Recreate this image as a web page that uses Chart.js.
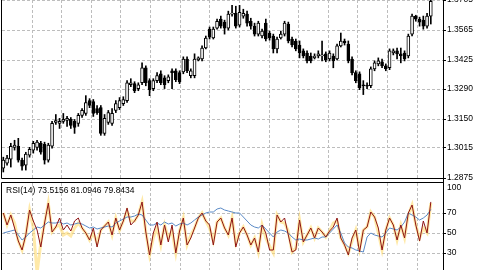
<!DOCTYPE html>
<html>
<head>
<meta charset="utf-8">
<script src="https://cdn.jsdelivr.net/npm/chart.js@4.4.1/dist/chart.umd.min.js"></script>
<style>
  html, body { margin: 0; padding: 0; background: #fff; }
  #wrap { position: relative; width: 480px; height: 270px; overflow: hidden; background: #fff; }
  #priceChart { position: absolute; left: 0; top: 0; }
  #rsiChart { position: absolute; left: 0; top: 180px; }
  #rsiLabel { position: absolute; left: 6px; top: 185px; font: 8.5px "Liberation Sans", Arial, sans-serif; color: #000; white-space: nowrap; }
</style>
</head>
<body>
<div id="wrap">
  <canvas id="priceChart" width="480" height="180"></canvas>
  <canvas id="rsiChart" width="480" height="90"></canvas>
  <div id="rsiLabel"></div>
</div>
<script>
// candles, left to right
const opens = [1.2921,1.2944,1.2963,1.3018,1.3023,1.2958,1.2935,1.2981,1.3005,1.3018,
  1.3037,1.3032,1.2958,1.3023,1.3134,1.3130,1.3139,1.3143,1.3148,1.3139,
  1.3130,1.3167,1.3176,1.3236,1.3231,1.3199,1.3203,1.3083,1.3134,1.3130,
  1.3190,1.3203,1.3222,1.3236,1.3310,1.3315,1.3292,1.3319,1.3389,1.3329,
  1.3292,1.3329,1.3361,1.3342,1.3329,1.3375,1.3375,1.3366,1.3370,1.3430,
  1.3352,1.3352,1.3426,1.3430,1.3481,1.3569,1.3528,1.3574,1.3616,1.3602,
  1.3574,1.3639,1.3643,1.3588,1.3630,1.3639,1.3606,1.3583,1.3546,1.3537,
  1.3597,1.3551,1.3537,1.3477,1.3528,1.3546,1.3593,1.3523,1.3514,1.3495,
  1.3468,1.3458,1.3444,1.3435,1.3444,1.3444,1.3454,1.3430,1.3444,1.3430,
  1.3491,1.3514,1.3500,1.3430,1.3366,1.3361,1.3310,1.3305,1.3305,1.3384,
  1.3407,1.3417,1.3398,1.3389,1.3458,1.3468,1.3454,1.3458,1.3444,1.3546,
  1.3630,1.3616,1.3611,1.3583,1.3630];
const highs = [1.2972,1.2981,1.3037,1.3051,1.3060,1.2968,1.2995,1.3018,1.3046,1.3051,
  1.3046,1.3042,1.3037,1.3139,1.3171,1.3153,1.3176,1.3162,1.3157,1.3148,
  1.3176,1.3199,1.3259,1.3245,1.3241,1.3213,1.3213,1.3171,1.3190,1.3199,
  1.3236,1.3250,1.3254,1.3329,1.3338,1.3324,1.3319,1.3412,1.3398,1.3338,
  1.3338,1.3366,1.3375,1.3352,1.3356,1.3384,1.3384,1.3375,1.3440,1.3440,
  1.3384,1.3454,1.3440,1.3491,1.3537,1.3579,1.3579,1.3616,1.3630,1.3611,
  1.3653,1.3680,1.3676,1.3680,1.3662,1.3653,1.3620,1.3597,1.3606,1.3569,
  1.3616,1.3560,1.3546,1.3532,1.3560,1.3606,1.3602,1.3532,1.3523,1.3514,
  1.3477,1.3468,1.3458,1.3454,1.3468,1.3514,1.3463,1.3468,1.3454,1.3500,
  1.3551,1.3523,1.3514,1.3440,1.3375,1.3370,1.3329,1.3319,1.3393,1.3421,
  1.3435,1.3430,1.3407,1.3477,1.3477,1.3481,1.3481,1.3468,1.3546,1.3639,
  1.3634,1.3625,1.3630,1.3643,1.3722];
const lows = [1.2903,1.2935,1.2926,1.3005,1.2949,1.2912,1.2912,1.2972,1.2991,1.3005,
  1.2986,1.2940,1.2949,1.3014,1.3125,1.3106,1.3130,1.3116,1.3106,1.3083,
  1.3116,1.3157,1.3167,1.3203,1.3162,1.3171,1.3074,1.3074,1.3125,1.3120,
  1.3180,1.3194,1.3213,1.3227,1.3301,1.3273,1.3282,1.3310,1.3305,1.3259,
  1.3282,1.3319,1.3310,1.3292,1.3319,1.3292,1.3324,1.3315,1.3361,1.3366,
  1.3342,1.3342,1.3421,1.3421,1.3477,1.3523,1.3523,1.3569,1.3574,1.3546,
  1.3565,1.3630,1.3574,1.3579,1.3620,1.3583,1.3569,1.3537,1.3537,1.3528,
  1.3514,1.3518,1.3458,1.3458,1.3523,1.3537,1.3505,1.3486,1.3468,1.3435,
  1.3435,1.3412,1.3412,1.3430,1.3435,1.3421,1.3417,1.3421,1.3389,1.3426,
  1.3486,1.3495,1.3412,1.3356,1.3319,1.3287,1.3264,1.3292,1.3296,1.3375,
  1.3398,1.3389,1.3375,1.3380,1.3449,1.3430,1.3412,1.3421,1.3435,1.3537,
  1.3606,1.3583,1.3569,1.3574,1.3593];
const closes = [1.2958,1.2968,1.3023,1.3028,1.2958,1.2930,1.2986,1.3009,1.3037,1.3042,
  1.2995,1.2958,1.3028,1.3130,1.3143,1.3139,1.3148,1.3153,1.3120,1.3111,
  1.3167,1.3190,1.3227,1.3213,1.3176,1.3180,1.3083,1.3153,1.3180,1.3176,
  1.3222,1.3236,1.3241,1.3319,1.3319,1.3282,1.3310,1.3389,1.3319,1.3287,
  1.3329,1.3352,1.3319,1.3310,1.3347,1.3366,1.3333,1.3324,1.3430,1.3375,
  1.3375,1.3430,1.3435,1.3481,1.3528,1.3532,1.3569,1.3606,1.3583,1.3574,
  1.3639,1.3643,1.3583,1.3648,1.3643,1.3597,1.3583,1.3546,1.3597,1.3560,
  1.3523,1.3528,1.3477,1.3523,1.3546,1.3597,1.3514,1.3495,1.3477,1.3458,
  1.3444,1.3421,1.3421,1.3444,1.3454,1.3449,1.3426,1.3458,1.3421,1.3491,
  1.3514,1.3505,1.3421,1.3366,1.3329,1.3296,1.3305,1.3303,1.3384,1.3412,
  1.3421,1.3398,1.3384,1.3468,1.3468,1.3454,1.3444,1.3430,1.3537,1.3630,
  1.3616,1.3602,1.3583,1.3630,1.3699];
const priceTicks = [1.2875, 1.3015, 1.3150, 1.3290, 1.3425, 1.3565, 1.3705];

// RSI lines
const rsiRed = [70,58,68,55,42,33,48,73,62,53, 36,60,80,51,56,65,53,58,52,62,
  65,55,50,43,55,36,53,57,61,48, 65,53,62,75,58,62,68,81,51,28,
  50,61,38,58,41,58,30,52,65,38, 45,55,65,70,62,58,38,61,65,55,
  48,65,36,50,56,48,38,45,31,58, 50,33,33,68,61,65,48,31,33,63,
  41,48,55,45,55,51,46,52,56,65, 45,38,28,45,53,31,53,56,71,66,
  55,33,53,65,58,43,58,45,70,78, 58,42,62,50,81.09];
const rsiYellow = [70,58,68,60,42,33,48,73,55,10, 40,60,80,51,56,58,48,50,47,55,
  60,55,50,43,50,40,53,57,61,48, 65,53,62,72,62,62,68,81,51,28,
  45,55,38,58,45,52,30,52,65,38, 48,55,65,70,62,55,42,61,65,55,
  48,65,40,50,56,48,38,45,31,58, 45,37,30,68,61,60,52,31,35,63,
  41,48,55,45,55,51,46,52,60,62, 45,38,30,42,53,34,53,56,71,66,
  50,33,53,65,58,43,58,45,68,78, 58,45,55,50,79.84];
const rsiBlue = [50,51,52,53,48,43,46,50,53,56, 55,58,61,60,60,61,59,60,58,59,
  60,59,57,55,56,54,55,56,57,56, 60,62,64,66,66,67,69,68,63,58,
  58,60,58,61,59,60,57,59,60,58, 60,63,66,68,70,71,71,74,75,73,
  72,71,70,70,66,62,58,56,55,58, 54,50,46,51,53,52,50,46,43,44,
  43,43,44,45,44,46,46,50,54,58, 50,40,36,35,33,32,31,46,50,48,
  47,46,50,55,54,53,56,61,70,68, 66,63,65,68,73.52];
const rsiTicks = [30, 50, 70, 100];
const rsiText = "RSI(14) 73.5156 81.0946 79.8434";

document.getElementById("rsiLabel").textContent = rsiText;

const gridColor = "#bdbdbd";
const font = { family: '"Liberation Sans", Arial, sans-serif', size: 8.5 };
const xMin = -0.35, xMax = 117.25;

// vertical grid every ~8 bars, between candles
function timeGrid(scale) {
  const t = [];
  for (let k = 0; k < 14; k++) t.push({ value: 7.65 + 7.9 * k });
  scale.ticks = t;
}

function fitAxis(scale) {
  scale.width = 37;
  scale.paddingTop = 0;
  scale.paddingBottom = 0;
}

// black panel frame
const frame = {
  id: "frame",
  afterDraw(chart, args, opts) {
    const { ctx, chartArea: a } = chart;
    const h = chart.height;
    ctx.save();
    ctx.strokeStyle = "#000";
    ctx.lineWidth = 1;
    ctx.beginPath();
    ctx.moveTo(a.left - 0.5, opts.top ? a.top - 0.5 : 0);
    ctx.lineTo(a.left - 0.5, opts.bottom ? a.bottom + 0.5 : h);
    ctx.moveTo(a.right + 0.5, 0);
    ctx.lineTo(a.right + 0.5, h);
    if (opts.top) {
      ctx.moveTo(a.left - 0.5, a.top - 0.5);
      ctx.lineTo(a.right + 0.5, a.top - 0.5);
    }
    if (opts.bottom) {
      ctx.moveTo(a.left - 0.5, a.bottom + 0.5);
      ctx.lineTo(a.right + 0.5, a.bottom + 0.5);
    }
    ctx.stroke();
    ctx.restore();
  }
};

const xAxis = {
  type: "linear",
  min: xMin,
  max: xMax,
  offset: false,
  bounds: "data",
  afterBuildTicks: timeGrid,
  ticks: { display: false },
  grid: { color: gridColor, drawTicks: false, offset: false },
  border: { display: false, dash: [3, 2] }
};

const idx = opens.map((o, i) => i);

function priceChart() {
  let ctx = document.getElementById("priceChart").getContext("2d");
  new Chart(ctx, {
    type: "bar",
    data: {
      datasets: [
        {
          data: idx.map(i => ({ x: i, y: [opens[i], closes[i]] })),
          backgroundColor: idx.map(i => closes[i] >= opens[i] ? "#ffffff" : "#000000"),
          borderColor: "#000",
          borderWidth: 1,
          borderSkipped: false,
          barThickness: 3,
          minBarLength: 1,
          grouped: false,
          order: 0
        },
        {
          data: idx.map(i => ({ x: i, y: [lows[i], highs[i]] })),
          backgroundColor: "#000",
          borderWidth: 0,
          barThickness: 1,
          grouped: false,
          order: 1
        }
      ]
    },
    options: {
      responsive: false,
      animation: false,
      layout: { padding: { left: 2, top: 0, right: 0, bottom: 2 } },
      plugins: {
        legend: { display: false },
        tooltip: { enabled: false },
        frame: { top: false, bottom: true }
      },
      scales: {
        x: xAxis,
        y: {
          position: "right",
          min: 1.2875,
          max: 1.3705,
          beginAtZero: false,
          afterBuildTicks: s => { s.ticks = priceTicks.map(v => ({ value: v })); },
          afterFit: fitAxis,
          ticks: { color: "#000", padding: 1, font: font, callback: v => v.toFixed(4) },
          grid: { color: gridColor, tickColor: "#000", tickLength: 3 },
          border: { display: false, dash: [3, 2] }
        }
      }
    },
    plugins: [frame]
  });
}

function rsiChart() {
  let ctx = document.getElementById("rsiChart").getContext("2d");
  const line = (vals, color, width, order) => ({
    data: idx.map(i => ({ x: i, y: vals[i] })),
    borderColor: color,
    borderWidth: width,
    pointRadius: 0,
    tension: 0,
    fill: false,
    order: order
  });
  new Chart(ctx, {
    type: "line",
    data: {
      datasets: [
        line(rsiRed, "#8e1414", 1, 0),
        line(rsiBlue, "#5a8ac6", 1, 1),
        line(rsiYellow, "rgba(255, 218, 110, 0.6)", 3, 2)
      ]
    },
    options: {
      responsive: false,
      animation: false,
      layout: { padding: { left: 2, top: 3, right: 0, bottom: 0 } },
      plugins: {
        legend: { display: false },
        tooltip: { enabled: false },
        frame: { top: true, bottom: false }
      },
      scales: {
        x: xAxis,
        y: {
          position: "right",
          min: 13,
          max: 100,
          // the top label sits just inside the panel, as in the terminal
          afterBuildTicks: s => { s.ticks = rsiTicks.map(v => ({ value: v === 100 ? 95.5 : v })); },
          afterFit: fitAxis,
          ticks: { color: "#000", padding: 1, font: font, callback: v => v > 90 ? "100" : String(v) },
          grid: {
            color: c => c.tick && c.tick.value > 90 ? "rgba(0,0,0,0)" : gridColor,
            tickColor: c => c.tick && c.tick.value > 90 ? "rgba(0,0,0,0)" : "#000",
            tickLength: 3
          },
          border: { display: false, dash: [3, 2] }
        }
      }
    },
    plugins: [frame]
  });
}

priceChart();
rsiChart();
</script>
</body>
</html>
